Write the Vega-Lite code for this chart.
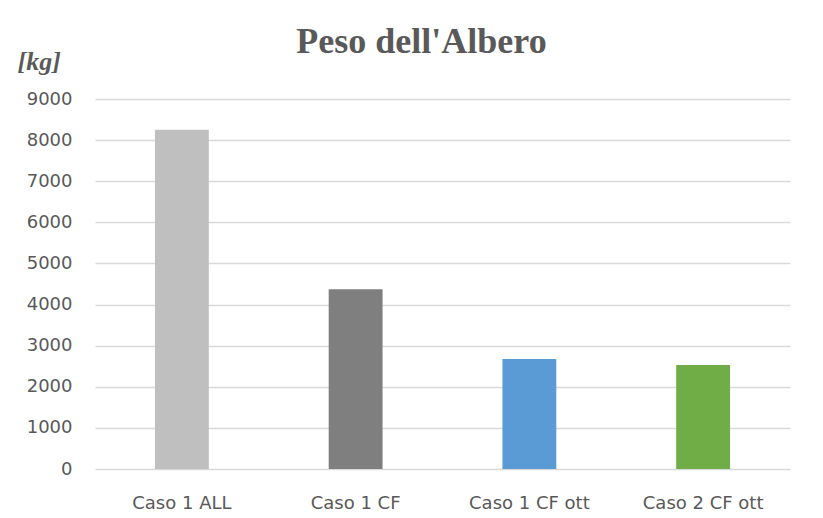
{
  "$schema": "https://vega.github.io/schema/vega-lite/v6.json",
  "autosize": "none",
  "width": 695,
  "height": 370,
  "padding": {"left": 95, "top": 99, "right": 33, "bottom": 49},
  "background": "white",
  "title": {
    "text": "Peso dell'Albero",
    "font": "Liberation Serif",
    "fontSize": 36,
    "fontWeight": "bold",
    "color": "#595959",
    "anchor": "middle",
    "frame": "group",
    "baseline": "alphabetic",
    "offset": 0,
    "dx": -21,
    "dy": 41
  },
  "data": {
    "values": [
      {"caso": "Caso 1 ALL", "peso": 8250},
      {"caso": "Caso 1 CF", "peso": 4370},
      {"caso": "Caso 1 CF ott", "peso": 2675},
      {"caso": "Caso 2 CF ott", "peso": 2530}
    ]
  },
  "mark": {"type": "bar"},
  "encoding": {
    "x": {
      "field": "caso",
      "type": "nominal",
      "sort": null,
      "scale": {"paddingInner": 0.69, "paddingOuter": 0.345},
      "axis": {
        "title": null,
        "labelAngle": 0,
        "labelFont": "DejaVu Sans",
        "labelFontSize": 18,
        "labelColor": "#595959",
        "labelBaseline": "alphabetic",
        "labelPadding": 39,
        "ticks": false,
        "tickSize": 0,
        "domain": false,
        "grid": false
      }
    },
    "y": {
      "field": "peso",
      "type": "quantitative",
      "scale": {"domain": [0, 9000], "nice": false},
      "axis": {
        "values": [0, 1000, 2000, 3000, 4000, 5000, 6000, 7000, 8000, 9000],
        "format": "d",
        "title": "[kg]",
        "titleAngle": 0,
        "titleAlign": "left",
        "titleBaseline": "alphabetic",
        "titleX": -78,
        "titleY": -30,
        "titleFont": "Liberation Serif",
        "titleFontSize": 26,
        "titleFontStyle": "italic",
        "titleFontWeight": "bold",
        "titleColor": "#595959",
        "labelFont": "DejaVu Sans",
        "labelFontSize": 18,
        "labelColor": "#595959",
        "labelPadding": 23,
        "labelBaseline": "middle",
        "ticks": false,
        "tickSize": 0,
        "domain": false,
        "grid": true,
        "gridColor": "#D9D9D9",
        "gridWidth": 1.5
      }
    },
    "color": {
      "field": "caso",
      "type": "nominal",
      "sort": null,
      "scale": {
        "domain": ["Caso 1 ALL", "Caso 1 CF", "Caso 1 CF ott", "Caso 2 CF ott"],
        "range": ["#BFBFBF", "#7F7F7F", "#5B9BD5", "#70AD47"]
      },
      "legend": null
    }
  },
  "config": {
    "view": {"stroke": null}
  }
}
